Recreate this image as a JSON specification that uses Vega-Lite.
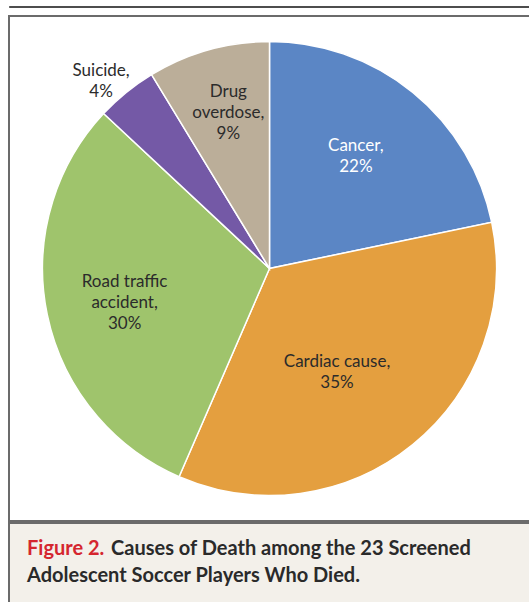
{
  "$schema": "https://vega.github.io/schema/vega-lite/v6.json",
  "padding": {"left": 8, "top": 5, "right": 0, "bottom": 0},
  "background": "white",
  "config": {"view": {"stroke": null}, "text": {"font": "Lato"}},
  "spacing": 5,
  "vconcat": [
    {
      "width": 521,
      "height": 1,
      "view": {"stroke": "#4d4d4d", "strokeWidth": 1, "fill": "#4d4d4d"},
      "data": {"values": []},
      "mark": {"type": "text"},
      "encoding": {"text": {"value": ""}}
    },
    {
      "spacing": 0,
      "vconcat": [
        {
          "width": 521,
          "height": 505,
          "view": {"stroke": "#6b6b6b", "strokeWidth": 2, "fill": "white"},
          "data": {
            "values": [
              {"cause": "Cancer", "n": 5, "pct": "22%", "label": "Cancer,\n22%", "ord": 1},
              {"cause": "Cardiac cause", "n": 8, "pct": "35%", "label": "Cardiac cause,\n35%", "ord": 2},
              {"cause": "Road traffic accident", "n": 7, "pct": "30%", "label": "Road traffic\naccident,\n30%", "ord": 3},
              {"cause": "Suicide", "n": 1, "pct": "4%", "label": "Suicide,\n4%", "ord": 4},
              {"cause": "Drug overdose", "n": 2, "pct": "9%", "label": "Drug\noverdose,\n9%", "ord": 5}
            ]
          },
          "encoding": {
            "theta": {"field": "n", "type": "quantitative", "stack": true},
            "order": {"field": "ord", "type": "quantitative"}
          },
          "layer": [
            {
              "mark": {"type": "arc", "outerRadius": 227, "stroke": "white", "strokeWidth": 1.5},
              "encoding": {
                "color": {
                  "field": "cause",
                  "type": "nominal",
                  "scale": {
                    "domain": ["Cancer", "Cardiac cause", "Road traffic accident", "Suicide", "Drug overdose"],
                    "range": ["#5b86c5", "#e49f3f", "#9fc46c", "#7459a6", "#bbae99"]
                  },
                  "legend": null
                }
              }
            },
            {
              "mark": {"type": "text", "radius": 140, "dx": -2, "dy": -14, "fontSize": 17, "lineBreak": "\n", "lineHeight": 21, "align": "center", "baseline": "middle", "color": "white"},
              "encoding": {"text": {"condition": {"test": "datum.cause === 'Cancer'", "field": "label"}, "value": ""}}
            },
            {
              "mark": {"type": "text", "radius": 126, "dx": -12, "dy": -4, "fontSize": 17, "lineBreak": "\n", "lineHeight": 21, "align": "center", "baseline": "middle", "color": "#2b2b2b"},
              "encoding": {"text": {"condition": {"test": "datum.cause === 'Cardiac cause'", "field": "label"}, "value": ""}}
            },
            {
              "mark": {"type": "text", "radius": 148, "dx": 0, "dy": -17, "fontSize": 17, "lineBreak": "\n", "lineHeight": 21, "align": "center", "baseline": "middle", "color": "#2b2b2b"},
              "encoding": {"text": {"condition": {"test": "datum.cause === 'Road traffic accident'", "field": "label"}, "value": ""}}
            },
            {
              "mark": {"type": "text", "radius": 251, "dx": -10, "dy": -3, "fontSize": 17, "lineBreak": "\n", "lineHeight": 21, "align": "center", "baseline": "middle", "color": "#2b2b2b"},
              "encoding": {"text": {"condition": {"test": "datum.cause === 'Suicide'", "field": "label"}, "value": ""}}
            },
            {
              "mark": {"type": "text", "radius": 160, "dx": 2, "dy": -22, "fontSize": 17, "lineBreak": "\n", "lineHeight": 21, "align": "center", "baseline": "middle", "color": "#2b2b2b"},
              "encoding": {"text": {"condition": {"test": "datum.cause === 'Drug overdose'", "field": "label"}, "value": ""}}
            }
          ]
        },
        {
          "width": 521,
          "height": 85,
          "view": {"stroke": "#6b6b6b", "strokeWidth": 2, "fill": "#f3f0ea"},
          "data": {"values": [{}]},
          "layer": [
            {
              "mark": {"type": "text", "align": "left", "baseline": "middle", "fontSize": 20, "fontWeight": "bold", "color": "#d5262f", "dx": -242.5, "dy": -16.5},
              "encoding": {"text": {"value": "Figure 2."}}
            },
            {
              "mark": {"type": "text", "align": "left", "baseline": "middle", "fontSize": 20, "fontWeight": "bold", "color": "#2a2a2a", "dx": -158.5, "dy": -16.5},
              "encoding": {"text": {"value": "Causes of Death among the 23 Screened"}}
            },
            {
              "mark": {"type": "text", "align": "left", "baseline": "middle", "fontSize": 20, "fontWeight": "bold", "color": "#2a2a2a", "dx": -242.5, "dy": 10.5},
              "encoding": {"text": {"value": "Adolescent Soccer Players Who Died."}}
            }
          ]
        }
      ]
    }
  ]
}
